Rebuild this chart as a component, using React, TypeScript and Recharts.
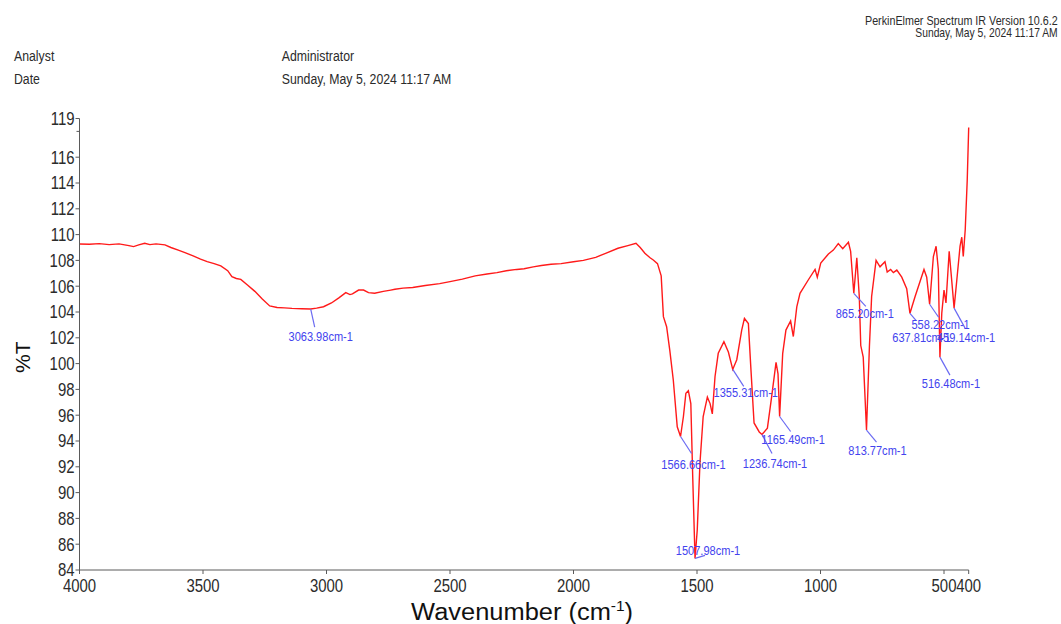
import React from 'react';
import { ComposedChart, Line, Scatter, XAxis, YAxis } from 'recharts';

// ---- data ----
const wavenumbers = [
  4000, 3960, 3920, 3880, 3840, 3800, 3781, 3760, 3736, 3715, 3690, 3654, 3630, 3600, 3573, 3540, 3510, 3483,
  3455, 3428, 3400, 3383, 3365, 3347, 3320, 3290, 3260, 3230, 3200, 3170, 3140, 3100, 3063.98, 3040, 3012, 2980,
  2950, 2922, 2905, 2895, 2870, 2850, 2830, 2805, 2770, 2740, 2723, 2690, 2651, 2600, 2542, 2500, 2450, 2398,
  2350, 2310, 2272, 2230, 2200, 2163, 2130, 2091, 2050, 2000, 1960, 1910, 1870, 1820, 1780, 1747, 1730, 1711,
  1690, 1677, 1660, 1645, 1636, 1623, 1610, 1596, 1580, 1566.66, 1555, 1545, 1535, 1525, 1517, 1507.98, 1499,
  1488, 1475, 1458, 1447, 1438, 1427, 1414, 1391, 1373, 1355.31, 1339, 1319, 1308, 1292, 1283, 1269, 1248,
  1236.74, 1215, 1198, 1180, 1172, 1165.49, 1153, 1140, 1121, 1110, 1096, 1083, 1049, 1022, 1013, 999, 968, 948,
  928, 910, 887, 878, 865.2, 853, 843, 837, 827, 813.77, 802, 793, 775, 759, 739, 730, 716, 705, 691, 671, 651,
  637.81, 617, 581, 570, 558.22, 543, 532, 523, 516.48, 509, 500, 492, 479, 469, 459.14, 448, 435, 428, 422, 414,
  406, 400,
];
const transmittance = [
  109.27, 109.25, 109.3, 109.22, 109.28, 109.15, 109.07, 109.2, 109.33, 109.22, 109.28, 109.2, 109.0, 108.8,
  108.6, 108.35, 108.1, 107.9, 107.75, 107.57, 107.2, 106.74, 106.6, 106.53, 106.1, 105.6, 105.0, 104.47, 104.35,
  104.32, 104.28, 104.25, 104.23, 104.3, 104.41, 104.7, 105.1, 105.5, 105.35, 105.4, 105.7, 105.7, 105.5, 105.45,
  105.6, 105.7, 105.76, 105.85, 105.9, 106.05, 106.2, 106.35, 106.55, 106.8, 106.95, 107.05, 107.2, 107.3,
  107.35, 107.5, 107.6, 107.7, 107.75, 107.9, 108.0, 108.24, 108.55, 108.94, 109.15, 109.33, 109.0, 108.55,
  108.2, 108.03, 107.75, 106.8, 103.64, 102.86, 101.0, 98.73, 95.1, 94.35, 95.9, 97.7, 97.9, 96.9, 91.0, 84.9,
  87.1, 92.3, 95.9, 97.4, 96.9, 96.1, 99.0, 100.8, 101.7, 100.9, 99.55, 100.3, 102.6, 103.5, 103.1, 100.0, 95.4,
  94.7, 94.5, 95.0, 97.4, 100.1, 99.2, 95.9, 100.8, 102.6, 103.3, 102.1, 104.4, 105.45, 106.5, 107.3, 106.7,
  107.8, 108.5, 108.8, 109.3, 108.9, 109.4, 108.7, 105.45, 108.2, 105.2, 101.4, 100.5, 94.85, 101.3, 105.2,
  108.0, 107.5, 107.9, 107.1, 107.3, 107.05, 107.25, 106.7, 105.8, 103.9, 105.2, 107.3, 106.7, 104.6, 108.3,
  109.1, 107.3, 100.5, 103.9, 105.7, 104.7, 108.7, 106.5, 104.3, 106.5, 109.1, 109.8, 108.3, 110.4, 114.2, 118.3,
];
const peakWavenumbers = [3063.98, 1566.66, 1507.98, 1355.31, 1236.74, 1165.49, 865.2, 813.77, 637.81, 558.22, 516.48, 459.14];
const peakTransmittance = [104.23, 94.35, 84.9, 99.55, 94.5, 95.9, 105.45, 94.85, 103.9, 104.6, 100.5, 104.3];
const xTicks = [4000, 3500, 3000, 2500, 2000, 1500, 1000, 500, 400];
const yTicks = [84, 86, 88, 90, 92, 94, 96, 98, 100, 102, 104, 106, 108, 110, 112, 114, 116, 118, 119];
const yMinorTicks = [118];

// ---- layout (leader-line end offset and label offset from that end) ----
const labelLayout = [
  { dx: 4, dy: 18, tx: 6, ty: 14 },
  { dx: 11, dy: 17, tx: 2, ty: 16 },
  { dx: 10, dy: -3, tx: 3, ty: 0 },
  { dx: 11, dy: 17, tx: 2, ty: 11 },
  { dx: 10, dy: 19, tx: 3, ty: 14 },
  { dx: 11, dy: 15, tx: 2.5, ty: 13 },
  { dx: 12, dy: 13, tx: -1, ty: 11.5 },
  { dx: 10, dy: 12, tx: 1, ty: 13 },
  { dx: 6, dy: 7, tx: 5.5, ty: 22 },
  { dx: 9, dy: 13, tx: 2, ty: 12 },
  { dx: 10, dy: 18, tx: 1, ty: 12.5 },
  { dx: 11, dy: 20, tx: 1, ty: 14 },
];

const spectrum = wavenumbers.map((w, i) => ({ w, t: transmittance[i] }));
const peaks = peakWavenumbers.map((w, i) => ({ w, t: peakTransmittance[i], i, label: `${w.toFixed(2)}cm-1` }));

const FONT = "'Liberation Sans', Arial, Helvetica, sans-serif";
const NARROW = 0.83;
const AXIS = '#5a5a5a';
const TEXT = '#2b2b2b';

const YTick = (props: any) => {
  const { x, y, payload } = props;
  const v = payload.value;
  if (yMinorTicks.includes(v)) {
    return <line x1={x - 3} x2={x} y1={y} y2={y} stroke={AXIS} strokeWidth={1} />;
  }
  return (
    <g>
      <line x1={x - 4} x2={x} y1={y} y2={y} stroke={AXIS} strokeWidth={1} />
      <text
        transform={`translate(${x - 5},${y + 6.4}) scale(${NARROW},1)`}
        textAnchor="end"
        fontSize={18}
        fontFamily={FONT}
        fill={TEXT}
      >
        {v}
      </text>
    </g>
  );
};

const XTick = (props: any) => {
  const { x, y, payload } = props;
  return (
    <g>
      <line x1={x} x2={x} y1={y} y2={y + 4} stroke={AXIS} strokeWidth={1} />
      <text
        transform={`translate(${x},${y + 21.5}) scale(${NARROW},1)`}
        textAnchor="middle"
        fontSize={18}
        fontFamily={FONT}
        fill={TEXT}
      >
        {payload.value}
      </text>
    </g>
  );
};

const PeakLabel = (props: any) => {
  const { cx, cy, payload } = props;
  if (cx == null || cy == null) return null;
  const L = labelLayout[payload.i];
  const ex = cx + L.dx;
  const ey = cy + L.dy;
  return (
    <g>
      <line x1={cx} y1={cy} x2={ex} y2={ey} stroke="#6a6af2" strokeWidth={1.2} />
      <text
        transform={`translate(${ex + L.tx},${ey + L.ty}) scale(0.85,1)`}
        textAnchor="middle"
        fontSize={13}
        fontFamily={FONT}
        fill="#4343ee"
      >
        {payload.label}
      </text>
    </g>
  );
};

const XTitle = (props: any) => {
  const vb = props.viewBox || { x: 79.5, y: 570, width: 889 };
  const cx = vb.x + vb.width / 2 - 2;
  return (
    <text x={cx} y={vb.y + 50} textAnchor="middle" fontSize={23} fontFamily={FONT} fill="#111" textLength={222} lengthAdjust="spacingAndGlyphs">
      Wavenumber (cm
      <tspan fontSize={14} dy={-9}>-1</tspan>
      <tspan dy={9}>)</tspan>
    </text>
  );
};

const YTitle = (props: any) => {
  const vb = props.viewBox || { y: 118.5, height: 451.5 };
  const cy = vb.y + vb.height / 2 + 13;
  return (
    <text transform={`translate(30,${cy}) rotate(-90)`} textAnchor="middle" fontSize={21} fontFamily={FONT} fill="#111">
      %T
    </text>
  );
};

export default function App() {
  return (
    <div style={{ position: 'absolute', left: 0, top: 0, width: 1061, height: 624, background: '#fff' }}>
      <ComposedChart width={1061} height={624} margin={{ top: 118.5, right: 92.3, bottom: 0, left: 0 }}>
        <XAxis
          type="number"
          dataKey="w"
          domain={[400, 4000]}
          reversed
          ticks={xTicks}
          interval={0}
          height={54}
          tickSize={0}
          tickMargin={0}
          tickLine={false}
          tick={XTick}
          axisLine={{ stroke: AXIS, strokeWidth: 1 }}
          label={{ content: XTitle }}
        />
        <YAxis
          type="number"
          domain={[84, 119]}
          ticks={yTicks}
          interval={0}
          width={79.5}
          tickSize={0}
          tickMargin={0}
          tickLine={false}
          tick={YTick}
          axisLine={{ stroke: AXIS, strokeWidth: 1 }}
          label={{ content: YTitle }}
        />
        <Line
          data={spectrum}
          dataKey="t"
          type="linear"
          stroke="#ff1a1a"
          strokeWidth={1.4}
          dot={false}
          activeDot={false}
          isAnimationActive={false}
        />
        <Scatter data={peaks} dataKey="t" shape={PeakLabel} isAnimationActive={false} />
      </ComposedChart>
      <svg width={1061} height={624} style={{ position: 'absolute', left: 0, top: 0, pointerEvents: 'none' }}>
        <g fontFamily={FONT} fill={TEXT}>
          <text transform={`translate(1057.7,25) scale(0.86,1)`} textAnchor="end" fontSize={12.5}>PerkinElmer Spectrum IR Version 10.6.2</text>
          <text transform={`translate(1057.7,36.7) scale(0.86,1)`} textAnchor="end" fontSize={12}>Sunday, May 5, 2024 11:17 AM</text>
          <text transform={`translate(14,61) scale(0.82,1)`} fontSize={15}>Analyst</text>
          <text transform={`translate(14,84) scale(0.82,1)`} fontSize={15}>Date</text>
          <text transform={`translate(281.7,61) scale(0.82,1)`} fontSize={15}>Administrator</text>
          <text transform={`translate(281.7,84) scale(0.82,1)`} fontSize={15}>Sunday, May 5, 2024 11:17 AM</text>
        </g>
      </svg>
    </div>
  );
}
